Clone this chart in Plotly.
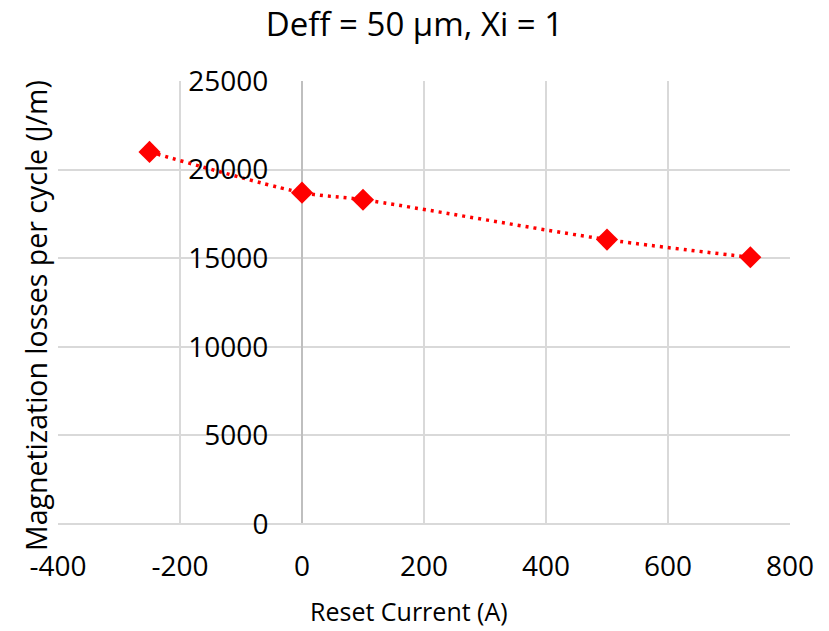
import plotly.graph_objects as go

# Reset current (A) vs magnetization losses per cycle (J/m)
reset_current = [-250, 0, 100, 500, 735]
losses = [21000, 18700, 18300, 16050, 15050]

x_ticks = [-400, -200, 0, 200, 400, 600, 800]
y_ticks = [0, 5000, 10000, 15000, 20000, 25000]

FONT = "Open Sans"
RED = "#ff0000"
W, H = 829, 631
ML, MR, MT, MB = 58, 39, 81, 107
PW, PH = W - ML - MR, H - MT - MB

fig = go.Figure()
fig.add_trace(go.Scatter(
    x=reset_current,
    y=losses,
    mode="lines+markers",
    line=dict(color=RED, width=3.5, dash="3px,5px", shape="spline", smoothing=0.8),
    marker=dict(symbol="diamond", size=17, color=RED),
    showlegend=False,
))

x_min, x_max = x_ticks[0], x_ticks[-1]

fig.update_layout(
    width=W,
    height=H,
    margin=dict(l=ML, r=MR, t=MT, b=MB),
    paper_bgcolor="white",
    plot_bgcolor="white",
    font=dict(family=FONT, size=28, color="black"),
    title=dict(
        text="Deff = 50 µm, Xi = 1",
        x=0.5, xanchor="center",
        y=1 - 24 / H, yanchor="middle", yref="container",
        font=dict(family=FONT, size=33, color="black"),
    ),
    xaxis=dict(
        range=[x_min, x_max],
        tickvals=x_ticks,
        ticktext=[str(v) for v in x_ticks],
        showgrid=True, gridcolor="#d9d9d9", gridwidth=1.5,
        zeroline=True, zerolinecolor="#bfbfbf", zerolinewidth=2,
        showline=False,
        ticks="outside", ticklen=17, tickcolor="rgba(0,0,0,0)",
        tickfont=dict(family=FONT, size=28),
        automargin=False,
        fixedrange=True,
    ),
    yaxis=dict(
        range=[y_ticks[0], y_ticks[-1]],
        tickvals=y_ticks,
        ticktext=[str(v) for v in y_ticks],
        showgrid=True, gridcolor="#d9d9d9", gridwidth=1.5,
        zeroline=True, zerolinecolor="#d9d9d9", zerolinewidth=1.5,
        showline=False,
        anchor="free",
        position=(0 - x_min) / (x_max - x_min),
        ticks="outside", ticklen=28, tickcolor="rgba(0,0,0,0)",
        tickfont=dict(family=FONT, size=28),
        automargin=False,
        fixedrange=True,
    ),
    annotations=[
        dict(
            text="Magnetization losses per cycle (J/m)",
            xref="paper", yref="paper",
            x=(36 - ML) / PW, y=(H - MB - 316) / PH,
            xanchor="center", yanchor="middle",
            textangle=-90, showarrow=False,
            font=dict(family=FONT, size=28.5, color="black"),
        ),
        dict(
            text="Reset Current (A)",
            xref="paper", yref="paper",
            x=(409 - ML) / PW, y=(H - MB - 611) / PH,
            xanchor="center", yanchor="middle",
            showarrow=False,
            font=dict(family=FONT, size=25, color="black"),
        ),
    ],
)

fig.write_html("out.html")
